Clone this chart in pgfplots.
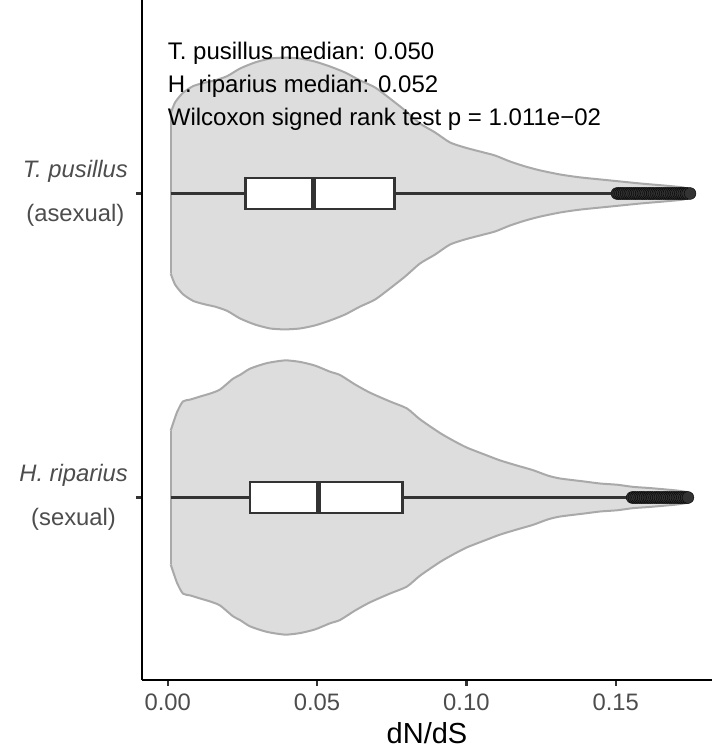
\documentclass[border=0pt]{standalone}
\usepackage{pgfplots}
\pgfplotsset{compat=1.18}
\usepackage{pgfplotstable}
\usepgfplotslibrary{fillbetween}
\usepackage{fontspec}
\setmainfont{Liberation Sans}
\definecolor{vfill}{HTML}{DDDDDD}
\definecolor{vline}{HTML}{A9A9A9}
\definecolor{g20}{HTML}{333333}
\definecolor{g30}{HTML}{4D4D4D}

% T. pusillus violin: x, half width (category units)
\pgfplotstableread{
x w
0.0010 0.263
0.0025 0.300
0.0052 0.332
0.0087 0.354
0.0130 0.366
0.0158 0.372
0.0199 0.386
0.0242 0.411
0.0292 0.431
0.0343 0.444
0.0392 0.447
0.0443 0.444
0.0493 0.434
0.0543 0.418
0.0594 0.398
0.0644 0.372
0.0694 0.349
0.0744 0.3125
0.0795 0.273
0.0845 0.230
0.0895 0.201
0.0945 0.168
0.0996 0.151
0.1046 0.138
0.1096 0.125
0.1147 0.105
0.1197 0.089
0.1247 0.076
0.1314 0.0625
0.1381 0.053
0.1481 0.043
0.1582 0.033
0.1665 0.026
0.1726 0.020
0.1749 0.013
}\vT

% H. riparius violin
\pgfplotstableread{
x w
0.0010 0.220
0.0031 0.280
0.0051 0.316
0.0075 0.322
0.0108 0.332
0.0142 0.342
0.0175 0.355
0.0219 0.391
0.0242 0.403
0.0276 0.424
0.0332 0.442
0.0393 0.451
0.0443 0.446
0.0493 0.434
0.0543 0.414
0.0577 0.403
0.0627 0.372
0.0677 0.345
0.0744 0.316
0.0801 0.293
0.0845 0.257
0.0912 0.212
0.0962 0.184
0.1002 0.164
0.1062 0.141
0.1113 0.122
0.1170 0.105
0.1223 0.090
0.1273 0.072
0.1314 0.0625
0.1392 0.053
0.1448 0.046
0.1505 0.042
0.1558 0.035
0.1615 0.031
0.1705 0.023
0.1749 0.016
}\vH

\begin{document}
\begin{tikzpicture}
\begin{axis}[name=ax, at={(0,0)}, anchor=south west,
  width=570pt, height=680pt, scale only axis,
  xmin=-0.0086, xmax=0.18224, ymin=0.3997, ymax=2.6365,
  axis lines=left, axis line style={-, line width=2.3pt, black},
  xtick={0,0.05,0.1,0.15}, xticklabels={0.00,0.05,0.10,0.15},
  ytick={1,2},
  yticklabels={{\textit{H. riparius}\\(sexual)},{\textit{T. pusillus}\\(asexual)}},
  tick align=outside, major tick length=6pt,
  tick style={line width=2.3pt, g20},
  xticklabel style={font=\fontsize{23.8}{28}\selectfont, text=g30, inner sep=0pt, yshift=-8pt},
  yticklabel style={font=\fontsize{23.8}{44}\selectfont, text=g30, align=center, inner sep=0pt, xshift=-8pt},
  xlabel={dN/dS},
  xlabel style={font=\fontsize{29}{34}\selectfont, at={(axis description cs:0.5,0)}, anchor=base, yshift=-63pt},
  clip=false,
]
% --- T. pusillus violin (y = 2)
\addplot[draw=none, smooth, tension=0.4, name path=tu] table[x=x, y expr=2+\thisrow{w}] {\vT};
\addplot[draw=none, smooth, tension=0.4, name path=tl] table[x=x, y expr=2-\thisrow{w}] {\vT};
\addplot[fill=vfill, draw=none] fill between[of=tu and tl];
\addplot[vline, line width=2pt, smooth, tension=0.4] table[x=x, y expr=2+\thisrow{w}] {\vT};
\addplot[vline, line width=2pt, smooth, tension=0.4] table[x=x, y expr=2-\thisrow{w}] {\vT};
\addplot[vline, line width=2pt] coordinates {(0.0010,1.737) (0.0010,2.263)};
\addplot[vline, line width=2pt] coordinates {(0.1749,1.987) (0.1749,2.013)};
% --- H. riparius violin (y = 1)
\addplot[draw=none, smooth, tension=0.4, name path=hu] table[x=x, y expr=1+\thisrow{w}] {\vH};
\addplot[draw=none, smooth, tension=0.4, name path=hl] table[x=x, y expr=1-\thisrow{w}] {\vH};
\addplot[fill=vfill, draw=none] fill between[of=hu and hl];
\addplot[vline, line width=2pt, smooth, tension=0.4] table[x=x, y expr=1+\thisrow{w}] {\vH};
\addplot[vline, line width=2pt, smooth, tension=0.4] table[x=x, y expr=1-\thisrow{w}] {\vH};
\addplot[vline, line width=2pt] coordinates {(0.0010,0.780) (0.0010,1.220)};
\addplot[vline, line width=2pt] coordinates {(0.1749,0.984) (0.1749,1.016)};
% --- boxplots
\addplot[g20, line width=2.3pt] coordinates {(0.0010,2) (0.0261,2)};
\addplot[g20, line width=2.3pt] coordinates {(0.0759,2) (0.1504,2)};
\addplot[g20, line width=2.3pt, fill=white] coordinates {(0.0261,1.95) (0.0759,1.95) (0.0759,2.05) (0.0261,2.05)} -- cycle;
\addplot[g20, line width=4.6pt] coordinates {(0.0488,1.95) (0.0488,2.05)};
\addplot[g20, line width=2.3pt] coordinates {(0.0010,1) (0.0276,1)};
\addplot[g20, line width=2.3pt] coordinates {(0.0786,1) (0.1550,1)};
\addplot[g20, line width=2.3pt, fill=white] coordinates {(0.0276,0.95) (0.0786,0.95) (0.0786,1.05) (0.0276,1.05)} -- cycle;
\addplot[g20, line width=4.6pt] coordinates {(0.0504,0.95) (0.0504,1.05)};
% --- outliers
\addplot[only marks, mark=*, mark size=5.9pt, mark options={draw=none, fill=g20}] coordinates {
(0.1504,2) (0.1510,2) (0.1516,2) (0.1522,2) (0.1528,2) (0.1535,2) (0.1541,2) (0.1547,2)
(0.1553,2) (0.1560,2) (0.1566,2) (0.1572,2) (0.1578,2) (0.1585,2) (0.1591,2) (0.1597,2)
(0.1603,2) (0.1610,2) (0.1616,2) (0.1622,2) (0.1628,2) (0.1635,2) (0.1641,2) (0.1647,2)
(0.1653,2) (0.1660,2) (0.1666,2) (0.1672,2) (0.1678,2) (0.1685,2) (0.1691,2) (0.1697,2)
(0.1703,2) (0.1710,2) (0.1716,2) (0.1722,2) (0.1728,2) (0.1735,2) (0.1741,2) (0.1749,2)};
\addplot[only marks, mark=*, mark size=5.9pt, mark options={draw=none, fill=g20}] coordinates {
(0.1555,1) (0.1561,1) (0.1567,1) (0.1573,1) (0.1580,1) (0.1586,1) (0.1592,1) (0.1598,1)
(0.1605,1) (0.1611,1) (0.1617,1) (0.1623,1) (0.1630,1) (0.1636,1) (0.1642,1) (0.1648,1)
(0.1655,1) (0.1661,1) (0.1667,1) (0.1673,1) (0.1680,1) (0.1686,1) (0.1692,1) (0.1698,1)
(0.1705,1) (0.1711,1) (0.1717,1) (0.1723,1) (0.1730,1) (0.1736,1) (0.1742,1)};
% --- annotations
\node[anchor=base west, inner sep=0pt, font=\fontsize{24}{28}\selectfont] at (axis cs:0,2.4424) {T. pusillus median: 0.050};
\node[anchor=base west, inner sep=0pt, font=\fontsize{24}{28}\selectfont] at (axis cs:0,2.3322) {H. riparius median: 0.052};
\node[anchor=base west, inner sep=0pt, font=\fontsize{24}{28}\selectfont] at (axis cs:0,2.2237) {Wilcoxon signed rank test p = 1.011e−02};
\end{axis}
\pgfresetboundingbox
\path[use as bounding box] ([shift={(-142pt,-70pt)}]ax.south west) rectangle (ax.north east);
\end{tikzpicture}
\end{document}
